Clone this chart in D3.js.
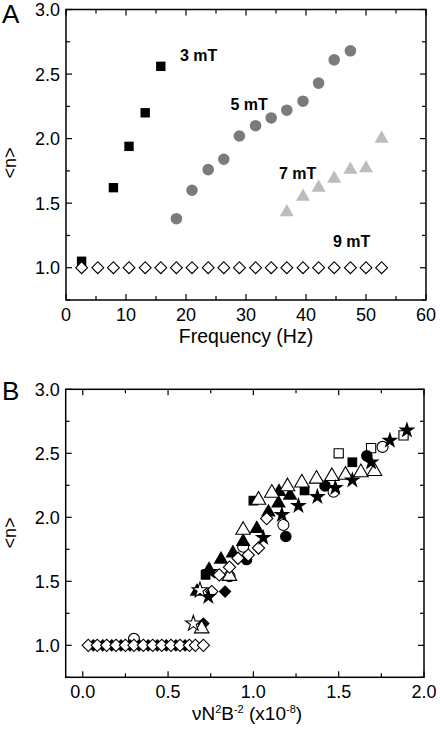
<!DOCTYPE html>
<html><head><meta charset="utf-8">
<script src="https://cdn.jsdelivr.net/npm/d3@7"></script>
<style>
html,body{margin:0;padding:0;background:#fff;}
svg{display:block;font-family:"Liberation Sans",Arial,sans-serif;}
</style></head>
<body>
<svg id="c" width="440" height="735"></svg>
<script>
// ---------- Panel A data ----------
const freqA3 = [2.6, 7.9, 10.5, 13.2, 15.8];
const nA3    = [1.05, 1.62, 1.94, 2.20, 2.56];
const freqA5 = [18.4, 21.0, 23.7, 26.3, 28.9, 31.6, 34.2, 36.8, 39.5, 42.1, 44.7, 47.4];
const nA5    = [1.38, 1.60, 1.76, 1.84, 2.02, 2.10, 2.16, 2.22, 2.29, 2.43, 2.61, 2.68];
const freqA7 = [36.8, 39.5, 42.1, 44.7, 47.4, 50.0, 52.6];
const nA7    = [1.43, 1.55, 1.62, 1.69, 1.76, 1.77, 2.00];
const freqA9 = [2.6, 5.3, 7.9, 10.5, 13.2, 15.8, 18.4, 21.0, 23.7, 26.3, 28.9, 31.6, 34.2, 36.8, 39.5, 42.1, 44.7, 47.4, 50.0, 52.6];
const nA9    = [1,1,1,1,1,1,1,1,1,1,1,1,1,1,1,1,1,1,1,1];
const labelsA = ["3 mT", "5 mT", "7 mT", "9 mT"];
const xTicksA = [0, 10, 20, 30, 40, 50, 60];
const yTicks  = [1.0, 1.5, 2.0, 2.5, 3.0];

// ---------- Panel B data ----------
const bFilledSquareX = [0.72, 1.00, 1.30, 1.58];
const bFilledSquareY = [1.55, 2.13, 2.21, 2.43];
const bOpenSquareX = [1.50, 1.69, 1.88];
const bOpenSquareY = [2.50, 2.54, 2.64];
const bFilledCircleX = [0.96, 1.19, 1.42, 1.665];
const bFilledCircleY = [1.67, 1.85, 2.245, 2.48];
const bOpenCircleX = [0.30, 0.86, 0.94, 1.176, 1.47, 1.757];
const bOpenCircleY = [1.05, 1.54, 1.77, 1.94, 2.20, 2.55];
const bFilledDiamondX = [0.062, 0.117, 0.17, 0.224, 0.277, 0.33, 0.384, 0.437, 0.49, 0.546, 0.60, 0.707, 0.834];
const bFilledDiamondY = [1.0, 1.0, 1.0, 1.0, 1.0, 1.0, 1.0, 1.0, 1.0, 1.0, 1.0, 1.17, 1.42];
const bFilledTriX = [0.67, 0.74, 0.81, 0.88, 0.94, 1.02, 1.088, 1.147, 1.15, 1.215];
const bFilledTriY = [1.42, 1.59, 1.67, 1.72, 1.81, 1.91, 2.04, 2.11, 2.20, 2.17];
const bOpenTriX = [0.697, 0.86, 0.94, 1.03, 1.108, 1.20, 1.284, 1.37, 1.46, 1.54, 1.63, 1.71];
const bOpenTriY = [1.13, 1.54, 1.90, 2.135, 2.19, 2.24, 2.27, 2.30, 2.32, 2.33, 2.35, 2.36];
const bOpenDiamondX = [0.032, 0.085, 0.14, 0.195, 0.25, 0.30, 0.355, 0.41, 0.463, 0.517, 0.57, 0.625, 0.66, 0.707, 0.756, 0.80, 0.86, 0.91, 0.97, 1.03, 1.078];
const bOpenDiamondY = [1.0, 1.0, 1.0, 1.0, 1.0, 1.0, 1.0, 1.0, 1.0, 1.0, 1.0, 1.0, 1.0, 1.0, 1.42, 1.55, 1.61, 1.68, 1.705, 1.76, 1.99];
const bFilledStarX = [0.736, 0.746, 1.058, 1.167, 1.264, 1.375, 1.48, 1.58, 1.69, 1.80, 1.90];
const bFilledStarY = [1.38, 1.575, 1.84, 2.02, 2.09, 2.16, 2.23, 2.29, 2.43, 2.60, 2.68];
const bOpenStarX = [0.648, 0.687];
const bOpenStarY = [1.17, 1.43];
const xTicksB = [0.0, 0.5, 1.0, 1.5, 2.0];

const svg = d3.select("#c");
const FONT = '"Liberation Sans", Arial, sans-serif';

function frame(g, x, y, xMinor, yMinor, xMajor, yMajor, xFmt) {
  const [x0, x1] = x.range(), [y0, y1] = y.range();
  const tk = g.append("g").attr("stroke", "#000").attr("stroke-width", 1.2);
  xMinor.forEach(v => {
    const L = xMajor.some(m => Math.abs(m - v) < 1e-9) ? 6 : 4;
    tk.append("line").attr("x1", x(v)).attr("x2", x(v)).attr("y1", y0).attr("y2", y0 - L);
    tk.append("line").attr("x1", x(v)).attr("x2", x(v)).attr("y1", y1).attr("y2", y1 + L);
  });
  yMinor.forEach(v => {
    const L = yMajor.some(m => Math.abs(m - v) < 1e-9) ? 6 : 4;
    tk.append("line").attr("y1", y(v)).attr("y2", y(v)).attr("x1", x0).attr("x2", x0 + L);
    tk.append("line").attr("y1", y(v)).attr("y2", y(v)).attr("x1", x1).attr("x2", x1 - L);
  });
  g.append("rect").attr("x", x0).attr("y", y1).attr("width", x1 - x0).attr("height", y0 - y1)
    .attr("fill", "none").attr("stroke", "#000").attr("stroke-width", 1.5);
  xMajor.forEach(v => {
    g.append("text").attr("x", x(v)).attr("y", y0 + 21).attr("text-anchor", "middle")
      .attr("font-size", 18).attr("font-family", FONT).text(xFmt(v));
  });
  yMajor.forEach(v => {
    g.append("text").attr("x", x0 - 6).attr("y", y(v) + 6.5).attr("text-anchor", "end")
      .attr("font-size", 18).attr("font-family", FONT).text(d3.format(".1f")(v));
  });
}

function marks(g, x, y, xs, ys, type, size, fill, stroke, rot) {
  const sym = d3.symbol().type(type).size(size);
  g.append("g").selectAll("path").data(xs.map((v, i) => [v, ys[i]])).join("path")
    .attr("d", sym)
    .attr("transform", d => `translate(${x(d[0])},${y(d[1])})` + (rot ? ` rotate(${rot})` : ""))
    .attr("fill", fill).attr("stroke", stroke).attr("stroke-width", stroke === "none" ? 0 : 1.1);
}

// ---------- Panel A ----------
{
  const x = d3.scaleLinear().domain([0, 60]).range([66, 426]);
  const y = d3.scaleLinear().domain([0.75, 3.0]).range([300, 9.5]);
  const g = svg.append("g");
  frame(g, x, y, d3.range(0, 61, 5), d3.range(0.75, 3.01, 0.25), xTicksA, yTicks, d3.format("d"));
  marks(g, x, y, freqA3, nA3, d3.symbolSquare, 88, "#000", "none");
  marks(g, x, y, freqA5, nA5, d3.symbolCircle, 105, "#7b7b7b", "none");
  marks(g, x, y, freqA7, nA7, d3.symbolTriangle, 85, "#bdbdbd", "none");
  marks(g, x, y, freqA9, nA9, d3.symbolSquare, 70, "#fff", "#000", 45);
  const lab = [[labelsA[0], 19.0, 2.60], [labelsA[1], 27.4, 2.22], [labelsA[2], 35.5, 1.69], [labelsA[3], 44.5, 1.16]];
  lab.forEach(d => g.append("text").attr("x", x(d[1])).attr("y", y(d[2])).attr("font-size", 16)
    .attr("font-weight", "bold").attr("font-family", FONT).text(d[0]));
  g.append("text").attr("x", 246).attr("y", 343).attr("text-anchor", "middle").attr("font-size", 19.5)
    .attr("font-family", FONT).text("Frequency (Hz)");
  g.append("text").attr("transform", `translate(16,${163}) rotate(-90)`).attr("text-anchor", "middle")
    .attr("font-size", 18).attr("font-family", FONT).text("<n>");
  g.append("text").attr("x", 2).attr("y", 23).attr("font-size", 26).attr("font-family", FONT).text("A");
}

// ---------- Panel B ----------
{
  const x = d3.scaleLinear().domain([-0.1, 2.0]).range([65.7, 424]);
  const y = d3.scaleLinear().domain([0.75, 3.0]).range([677.3, 389.3]);
  const g = svg.append("g");
  frame(g, x, y, d3.range(0, 2.01, 0.25), d3.range(0.75, 3.01, 0.25), xTicksB, yTicks, d3.format(".1f"));
  marks(g, x, y, bFilledSquareX, bFilledSquareY, d3.symbolSquare, 95, "#000", "none");
  marks(g, x, y, bOpenSquareX, bOpenSquareY, d3.symbolSquare, 85, "#fff", "#000");
  marks(g, x, y, bFilledCircleX, bFilledCircleY, d3.symbolCircle, 105, "#000", "none");
  marks(g, x, y, bOpenCircleX, bOpenCircleY, d3.symbolCircle, 95, "#fff", "#000");
  marks(g, x, y, bFilledDiamondX, bFilledDiamondY, d3.symbolSquare, 82, "#000", "none", 45);
  marks(g, x, y, bFilledTriX, bFilledTriY, d3.symbolTriangle, 95, "#000", "none");
  marks(g, x, y, bOpenTriX, bOpenTriY, d3.symbolTriangle, 92, "#fff", "#000");
  marks(g, x, y, bOpenDiamondX, bOpenDiamondY, d3.symbolSquare, 75, "#fff", "#000", 45);
  marks(g, x, y, bFilledStarX, bFilledStarY, d3.symbolStar, 90, "#000", "none");
  marks(g, x, y, bOpenStarX, bOpenStarY, d3.symbolStar, 75, "#fff", "#000");
  const t = g.append("text").attr("x", 247).attr("y", 720).attr("text-anchor", "middle")
    .attr("font-size", 19).attr("font-family", FONT);
  t.append("tspan").text("νN");
  t.append("tspan").attr("dy", -7).attr("font-size", 11).text("2");
  t.append("tspan").attr("dy", 7).text("B");
  t.append("tspan").attr("dy", -7).attr("font-size", 11).text("-2");
  t.append("tspan").attr("dy", 7).text(" (x10");
  t.append("tspan").attr("dy", -7).attr("font-size", 11).text("-8");
  t.append("tspan").attr("dy", 7).text(")");
  g.append("text").attr("transform", `translate(16,${533}) rotate(-90)`).attr("text-anchor", "middle")
    .attr("font-size", 18).attr("font-family", FONT).text("<n>");
  g.append("text").attr("x", 2).attr("y", 400).attr("font-size", 26).attr("font-family", FONT).text("B");
}
</script>
</body></html>
